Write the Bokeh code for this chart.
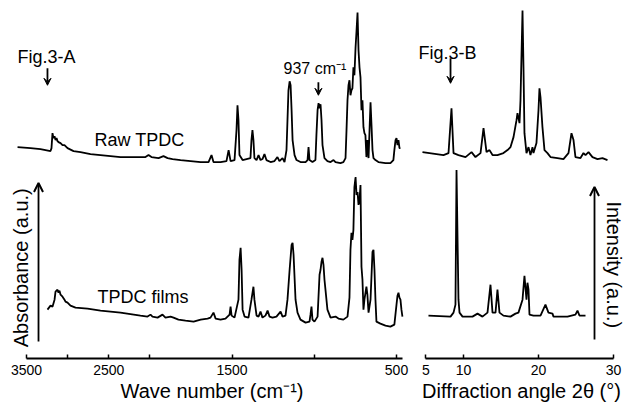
import numpy as np
from bokeh.plotting import figure
from bokeh.layouts import row
from bokeh.models import Range1d, FixedTicker, Label, Arrow, VeeHead, OpenHead, Title
from bokeh.embed import file_html
from bokeh.resources import INLINE

# ---------------- data ----------------
# IR spectrum, raw TPDC (wave number cm-1, absorbance a.u., offset trace)
raw_wn = [3609, 3451, 3330, 3208, 3196, 3184, 3172, 3159, 3147, 3135, 3123, 3111, 3086, 3062, 3038, 3001,
          2928, 2843, 2722, 2600, 2478, 2357, 2199, 2053, 2016, 1990, 1947, 1917, 1892, 1862, 1813, 1752,
          1691, 1643, 1625, 1613, 1570, 1534, 1521, 1509, 1485, 1473, 1467, 1461, 1455, 1436, 1412, 1388,
          1382, 1376, 1370, 1364, 1351, 1339, 1327, 1315, 1303, 1291, 1266, 1242, 1224, 1212, 1193, 1181,
          1169, 1163, 1157, 1150, 1144, 1138, 1132, 1120, 1108, 1084, 1053, 1041, 1035, 1029, 1011, 993,
          987, 980, 974, 968, 962, 956, 950, 938, 920, 901, 883, 871, 841, 823, 810, 804, 798, 792, 786,
          780, 774, 768, 762, 756, 749, 743, 737, 731, 725, 719, 713, 707, 701, 695, 689, 683, 677, 670,
          664, 658, 652, 646, 640, 628, 610, 567, 537, 519, 513, 506, 500, 494, 488, 482, 476]
raw_abs = [2.11, 2.10, 2.09, 2.07, 2.10, 2.25, 2.20, 2.22, 2.18, 2.20, 2.17, 2.16, 2.15, 2.13, 2.13, 2.10,
           2.07, 2.06, 2.04, 2.03, 2.02, 2.01, 2.01, 2.01, 2.03, 2.01, 2.00, 2.02, 2.00, 1.99, 1.98, 1.97,
           1.96, 1.96, 2.03, 1.96, 1.96, 1.97, 2.08, 1.97, 1.98, 2.28, 2.53, 2.38, 2.03, 1.98, 1.99, 2.00,
           2.18, 2.28, 2.18, 2.00, 1.98, 2.03, 1.98, 1.99, 2.04, 1.98, 1.96, 1.97, 2.01, 1.97, 2.00, 1.96,
           2.08, 2.38, 2.68, 2.77, 2.73, 2.48, 2.18, 2.03, 1.98, 1.96, 1.96, 1.98, 2.11, 1.98, 1.96, 1.98,
           2.23, 2.48, 2.55, 2.50, 2.54, 2.38, 2.13, 2.00, 1.97, 1.96, 1.98, 1.96, 1.95, 1.96, 2.00, 2.28,
           2.58, 2.73, 2.78, 2.63, 2.68, 2.70, 2.91, 2.83, 3.11, 3.28, 3.46, 3.08, 2.91, 2.81, 2.48, 2.58,
           2.31, 2.25, 2.23, 2.01, 2.18, 2.00, 2.28, 2.56, 2.33, 2.08, 2.00, 1.98, 1.96, 1.95, 1.95, 1.98,
           2.08, 2.18, 2.20, 2.13, 2.18, 2.10, 2.10]

# IR spectrum, TPDC films
film_wn = [3245, 3208, 3184, 3159, 3147, 3123, 3111, 3099, 3086, 3062, 3038, 3026, 3001, 2965, 2904, 2758,
           2600, 2357, 2114, 2028, 1996, 1984, 1953, 1923, 1905, 1874, 1856, 1826, 1783, 1734, 1691, 1649,
           1631, 1613, 1600, 1570, 1540, 1515, 1509, 1503, 1485, 1461, 1455, 1448, 1442, 1436, 1424, 1400,
           1382, 1370, 1364, 1351, 1339, 1327, 1315, 1297, 1284, 1272, 1254, 1230, 1205, 1193, 1175, 1163,
           1150, 1138, 1132, 1126, 1114, 1102, 1084, 1053, 1029, 1023, 1017, 1011, 999, 980, 968, 962, 956,
           950, 944, 938, 932, 920, 901, 871, 853, 823, 798, 786, 780, 774, 768, 762, 756, 749, 743, 737,
           731, 725, 719, 713, 707, 701, 695, 683, 677, 670, 658, 646, 640, 634, 628, 622, 598, 567, 537,
           513, 500, 494, 488, 482, 476, 470, 464]
film_abs = [0.48, 0.52, 0.51, 0.58, 0.66, 0.68, 0.65, 0.67, 0.63, 0.61, 0.58, 0.56, 0.55, 0.52, 0.50, 0.49,
            0.47, 0.45, 0.42, 0.41, 0.43, 0.41, 0.40, 0.43, 0.40, 0.41, 0.40, 0.38, 0.37, 0.36, 0.38, 0.39,
            0.40, 0.45, 0.39, 0.38, 0.39, 0.43, 0.51, 0.42, 0.40, 0.58, 0.98, 1.10, 0.88, 0.48, 0.41, 0.40,
            0.58, 0.71, 0.58, 0.42, 0.41, 0.46, 0.40, 0.42, 0.47, 0.41, 0.40, 0.41, 0.46, 0.41, 0.42, 0.58,
            0.88, 1.13, 1.15, 1.03, 0.58, 0.45, 0.38, 0.35, 0.36, 0.43, 0.51, 0.38, 0.36, 0.41, 0.83, 0.88,
            0.96, 1.00, 0.93, 0.78, 0.68, 0.48, 0.40, 0.41, 0.39, 0.38, 0.41, 0.60, 1.08, 1.25, 1.18, 1.28,
            1.71, 1.81, 1.63, 1.66, 1.53, 1.58, 1.73, 0.91, 0.78, 0.48, 0.58, 0.71, 0.63, 0.45, 0.58, 1.06,
            1.08, 0.88, 0.58, 0.36, 0.34, 0.32, 0.31, 0.33, 0.53, 0.62, 0.65, 0.60, 0.58, 0.48, 0.41]

# XRD pattern, raw TPDC (2theta deg, intensity a.u., offset trace)
xrd_raw_2theta = [4.53, 7.33, 8.0, 8.4, 8.67, 9.33, 10.27, 11.07, 11.6, 12.27, 12.67, 13.07, 13.47, 13.87,
                  14.53, 15.33, 15.87, 16.27, 16.67, 17.07, 17.2, 17.47, 17.6, 17.87, 18.0, 18.13, 18.4,
                  18.67, 18.93, 19.2, 19.33, 19.73, 20.0, 20.13, 20.27, 20.53, 20.8, 21.2, 21.6, 22.53,
                  23.33, 24.0, 24.4, 24.67, 24.93, 25.6, 26.0, 26.27, 26.67, 27.2, 27.87, 28.53, 29.2]
xrd_raw_int = [2.06, 2.03, 2.05, 2.50, 2.05, 2.03, 2.01, 2.06, 2.01, 2.05, 2.30, 2.06, 2.08, 2.03,
               2.03, 2.05, 2.08, 2.11, 2.21, 2.38, 2.45, 2.35, 2.58, 3.48, 2.91, 2.25, 2.05,
               2.11, 2.03, 2.11, 2.05, 2.15, 2.48, 2.70, 2.61, 2.31, 2.08, 2.05, 2.01, 2.00,
               1.99, 2.05, 2.25, 2.18, 2.01, 2.00, 2.05, 2.03, 2.06, 2.01, 1.99, 2.00, 1.98]

# XRD pattern, TPDC films
xrd_film_2theta = [5.33, 8.27, 8.67, 8.93, 9.07, 9.33, 9.47, 9.87, 11.2, 11.87, 12.53, 13.2, 13.6, 13.87,
                   14.27, 14.53, 14.8, 15.33, 16.27, 16.93, 17.33, 17.87, 18.13, 18.4, 18.53, 18.67, 18.8,
                   19.33, 20.27, 20.93, 21.33, 21.87, 22.0, 23.87, 24.93, 25.2, 25.47, 26.27]
xrd_film_int = [0.42, 0.41, 0.45, 0.53, 1.88, 0.58, 0.45, 0.41, 0.41, 0.44, 0.41, 0.45, 0.73, 0.45,
                0.45, 0.68, 0.45, 0.42, 0.41, 0.44, 0.45, 0.58, 0.82, 0.58, 0.75, 0.68, 0.43,
                0.42, 0.42, 0.53, 0.45, 0.44, 0.41, 0.41, 0.43, 0.47, 0.42, 0.42]

wn_major_ticks = [3500, 2500, 1500, 500]
wn_major_labels = ["3500", "2500", "1500", "500"]
wn_minor_ticks = [3000, 2000, 1000]
theta_ticks = [5, 10, 20, 30]

FONT = "Liberation Sans"
LW = 1.8


def to_t(w):
    """IR axis scale: 3500-2000 cm-1 compressed, 2000-500 cm-1 doubled."""
    w = np.asarray(w, dtype=float)
    return np.where(w >= 2000, 3500 - w, 1500 + 2 * (2000 - w))


def style(p):
    p.outline_line_color = None
    p.xgrid.visible = False
    p.ygrid.visible = False
    p.background_fill_color = "white"
    p.border_fill_color = "white"
    ax = p.xaxis[0]
    ax.axis_line_width = 1.8
    ax.axis_line_color = "black"
    ax.major_tick_in = 4
    ax.major_tick_out = 0
    ax.minor_tick_in = 4
    ax.minor_tick_out = 0
    ax.major_tick_line_width = 1.5
    ax.minor_tick_line_width = 1.5
    ax.major_tick_line_color = "black"
    ax.minor_tick_line_color = "black"
    ax.major_label_text_font = FONT
    ax.major_label_text_font_size = "14px"
    ax.major_label_text_color = "black"
    ax.major_label_standoff = 6


def lab(p, x, y, text, size="18px", align="left", baseline="alphabetic", angle=0.0):
    p.add_layout(Label(x=float(x), y=float(y), text=text, text_font=FONT, text_font_size=size,
                       text_color="black", text_align=align, text_baseline=baseline, angle=angle))


def arrow(p, x, y0, y1, head):
    p.add_layout(Arrow(x_start=float(x), y_start=y0, x_end=float(x), y_end=y1, end=head,
                       line_width=LW, line_color="black"))


def axis_title(p, text, offset):
    p.add_layout(Title(text=text, align="center", offset=offset, text_font=FONT,
                       text_font_size="20px", text_font_style="normal", text_color="black",
                       standoff=1), "below")


# ---------------- left panel: IR ----------------
p1 = figure(width=415, height=402, x_range=Range1d(-219, 4731), y_range=Range1d(-0.01, 3.50),
            output_backend="svg", toolbar_location=None, y_axis_location=None,
            min_border_left=8, min_border_right=0, min_border_top=8, min_border_bottom=43)
style(p1)
p1.line(to_t(raw_wn), raw_abs, line_color="black", line_width=LW)
p1.line(to_t(film_wn), film_abs, line_color="black", line_width=LW)
ax1 = p1.xaxis[0]
major_t = [float(v) for v in to_t(wn_major_ticks)]
ax1.ticker = FixedTicker(ticks=major_t, minor_ticks=[float(v) for v in to_t(wn_minor_ticks)])
ax1.major_label_overrides = {int(t): s for t, s in zip(major_t, wn_major_labels)}
ax1.bounds = (0, float(to_t(463)))
axis_title(p1, "Wave number (cm\u207b\u00b9)", 21)

lab(p1, to_t(3610), 3.01, "Fig.3-A")
arrow(p1, to_t(3245), 2.90, 2.73, VeeHead(size=7, fill_color="black", line_color="black"))
lab(p1, to_t(1187), 2.90, "937 cm\u207b\u00b9", size="16px")
arrow(p1, to_t(975), 2.76, 2.63, VeeHead(size=7, fill_color="black", line_color="black"))
lab(p1, to_t(2673), 2.18, "Raw TPDC")
lab(p1, to_t(2636), 0.61, "TPDC films")
arrow(p1, to_t(3354), 0.16, 1.75, OpenHead(size=9, line_width=2, line_color="black"))
lab(p1, to_t(3561), 0.90, "Absorbance (a.u.)", size="20px", align="center", baseline="middle",
    angle=np.pi / 2)

# ---------------- right panel: XRD ----------------
p2 = figure(width=215, height=402, x_range=Range1d(3.6, 31.87), y_range=Range1d(-0.01, 3.50),
            output_backend="svg", toolbar_location=None, y_axis_location=None,
            min_border_left=0, min_border_right=3, min_border_top=8, min_border_bottom=43)
style(p2)
p2.line(xrd_raw_2theta, xrd_raw_int, line_color="black", line_width=LW)
p2.line(xrd_film_2theta, xrd_film_int, line_color="black", line_width=LW)
ax2 = p2.xaxis[0]
ax2.ticker = FixedTicker(ticks=theta_ticks)
ax2.bounds = (5, 30)
axis_title(p2, "Diffraction angle 2\u03b8 (\u00b0)", 5)

lab(p2, 4.0, 3.05, "Fig.3-B")
arrow(p2, 8.27, 3.00, 2.75, VeeHead(size=7, fill_color="black", line_color="black"))
arrow(p2, 27.47, 0.18, 1.71, OpenHead(size=9, line_width=2, line_color="black"))
lab(p2, 30.13, 0.93, "Intensity (a.u.)", size="20px", align="center", baseline="middle",
    angle=-np.pi / 2)

layout = row(p1, p2)
open("out.html", "w").write(file_html(layout, INLINE))
